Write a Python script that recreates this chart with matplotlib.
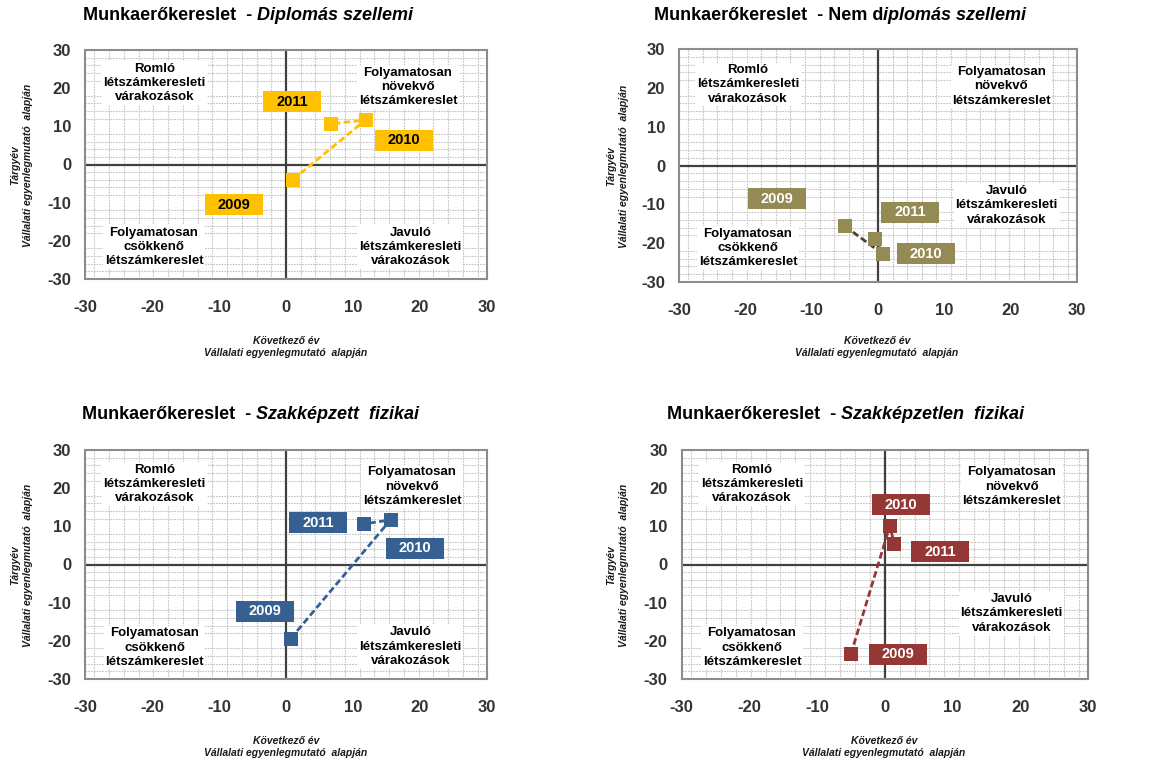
import matplotlib
matplotlib.use("Agg")
import matplotlib.pyplot as plt
import numpy as np
from matplotlib.patches import Rectangle
from matplotlib.ticker import FixedLocator, MultipleLocator

plt.rcParams['font.family'] = ['Liberation Sans', 'DejaVu Sans']
plt.rcParams['axes.unicode_minus'] = False

W, H = 1153, 762

# Adatok
years = ["2009", "2010", "2011"]

title_plain = ["Munkaerőkereslet  - ", "Munkaerőkereslet  - Nem d",
               "Munkaerőkereslet  - ", "Munkaerőkereslet  - "]
title_italic = ["Diplomás szellemi", "iplomás szellemi",
                "Szakképzett  fizikai", "Szakképzetlen  fizikai"]

colors = ["#FFC000", "#948A54", "#376092", "#953735"]
line_colors = ["#FFC000", "#4A452A", "#376092", "#953735"]
label_text_colors = ["black", "white", "white", "white"]

# Következő év (x), Tárgyév (y)
diplomas_x = [1.0, 11.9, 6.7]
diplomas_y = [-4.0, 11.7, 10.6]
nem_diplomas_x = [-5.0, 0.8, -0.5]
nem_diplomas_y = [-15.6, -22.9, -18.9]
szakkepzett_x = [0.7, 15.6, 11.6]
szakkepzett_y = [-19.4, 11.7, 10.6]
szakkepzetlen_x = [-5.0, 0.75, 1.4]
szakkepzetlen_y = [-23.5, 10.1, 5.4]

xs = [diplomas_x, nem_diplomas_x, szakkepzett_x, szakkepzetlen_x]
ys = [diplomas_y, nem_diplomas_y, szakkepzett_y, szakkepzetlen_y]

# címkék helye (2009, 2010, 2011)
label_x = [[-7.8, 17.6, 0.9], [-15.2, 7.2, 4.8], [-3.2, 19.3, 4.8], [2.0, 2.4, 8.2]]
label_y = [[-10.6, 6.4, 16.4], [-8.5, -22.7, -12.0], [-12.3, 4.3, 10.9], [-23.5, 15.6, 3.3]]

quad_texts = ["Romló\nlétszámkeresleti\nvárakozások",
              "Folyamatosan\nnövekvő\nlétszámkereslet",
              "Folyamatosan\ncsökkenő\nlétszámkereslet",
              "Javuló\nlétszámkeresleti\nvárakozások"]
quad_x = [[-19.6, 18.2, -19.7, 18.6], [-19.6, 18.6, -19.6, 19.4],
          [-19.6, 18.8, -19.6, 18.6], [-19.6, 18.7, -19.6, 18.7]]
quad_y = [[21.4, 20.3, -21.6, -21.6], [20.9, 20.4, -21.2, -10.3],
          [21.1, 20.4, -21.8, -21.5], [21.1, 20.4, -21.8, -12.8]]

# elrendezés pixelben: bal, felső, jobb, alsó
boxes = [(85, 50, 487, 279), (679, 49, 1077, 282),
         (85, 450, 487, 679), (681.5, 450, 1088, 679)]
title_pos = [(83, 15), (654, 15), (82, 415), (667, 415)]
ylab_pos = [(22, 165), (618, 166), (22, 565), (618, 565)]
xlab_pos = [(286, 347), (877, 347), (286, 747), (884, 747)]

fig = plt.figure(figsize=(W / 100, H / 100), dpi=100)
renderer = fig.canvas.get_renderer()

for i in range(4):
    l, t, r, b = boxes[i]
    ax = fig.add_axes([l / W, 1 - b / H, (r - l) / W, (b - t) / H])
    ax.set_xlim(-30, 30)
    ax.set_ylim(-30, 30)
    ax.xaxis.set_major_locator(MultipleLocator(10))
    ax.yaxis.set_major_locator(MultipleLocator(10))
    ax.xaxis.set_minor_locator(FixedLocator(np.arange(-13, 14) * 2.2))
    ax.yaxis.set_minor_locator(MultipleLocator(2))
    ax.grid(which='minor', color='#c4c4c4', linestyle=(0, (1.5, 1)), lw=0.8)
    ax.tick_params(which='both', length=0)
    ax.tick_params(axis='x', pad=15)
    ax.tick_params(axis='y', pad=10)
    for lab in ax.get_xticklabels() + ax.get_yticklabels():
        lab.set_fontsize(12)
        lab.set_fontweight('bold')
        lab.set_color('#333333')
    for sp in ax.spines.values():
        sp.set_color('#8c8c8c')
        sp.set_linewidth(1.5)
    ax.axhline(0, color='#404040', lw=1.6, zorder=2)
    ax.axvline(0, color='#404040', lw=1.6, zorder=2)

    for k in range(4):
        ax.text(quad_x[i][k], quad_y[i][k], quad_texts[k], ha='center', va='center',
                fontsize=9.5, fontweight='bold', linespacing=1.25, zorder=3,
                bbox=dict(facecolor='white', edgecolor='none', pad=1))

    ax.plot(xs[i], ys[i], color=line_colors[i], lw=2, linestyle=(0, (2.4, 1.2)), zorder=4)
    ax.plot(xs[i], ys[i], 's', color=colors[i], markersize=9.5, markeredgewidth=0, zorder=5)

    bw = 58 / (r - l) * 60
    bh = 21 / (b - t) * 60
    for k in range(3):
        cx, cy = label_x[i][k], label_y[i][k]
        ax.add_patch(Rectangle((cx - bw / 2, cy - bh / 2), bw, bh, facecolor=colors[i],
                               edgecolor='none', zorder=6))
        ax.text(cx, cy, years[k], ha='center', va='center', fontsize=10.5,
                fontweight='bold', color=label_text_colors[i], zorder=7)

    # tengelyfeliratok
    fig.text(ylab_pos[i][0] / W, 1 - ylab_pos[i][1] / H,
             "Tárgyév\nVállalati egyenlegmutató  alapján", rotation=90,
             ha='center', va='center', fontsize=7.5, style='italic', fontweight='bold',
             linespacing=1.35, color='#1a1a1a')
    fig.text(xlab_pos[i][0] / W, 1 - xlab_pos[i][1] / H,
             "Következő év\nVállalati egyenlegmutató  alapján",
             ha='center', va='center', fontsize=7.5, style='italic', fontweight='bold',
             linespacing=1.35, color='#1a1a1a')

    # cím: normál + dőlt rész
    tx, ty = title_pos[i]
    t1 = fig.text(tx / W, 1 - ty / H, title_plain[i], ha='left', va='center',
                  fontsize=13, fontweight='bold')
    bb = t1.get_window_extent(renderer=renderer)
    fig.text(bb.x1 / W, 1 - ty / H, title_italic[i], ha='left', va='center',
             fontsize=13, fontweight='bold', style='italic')

fig.savefig("out.png", dpi=100)
